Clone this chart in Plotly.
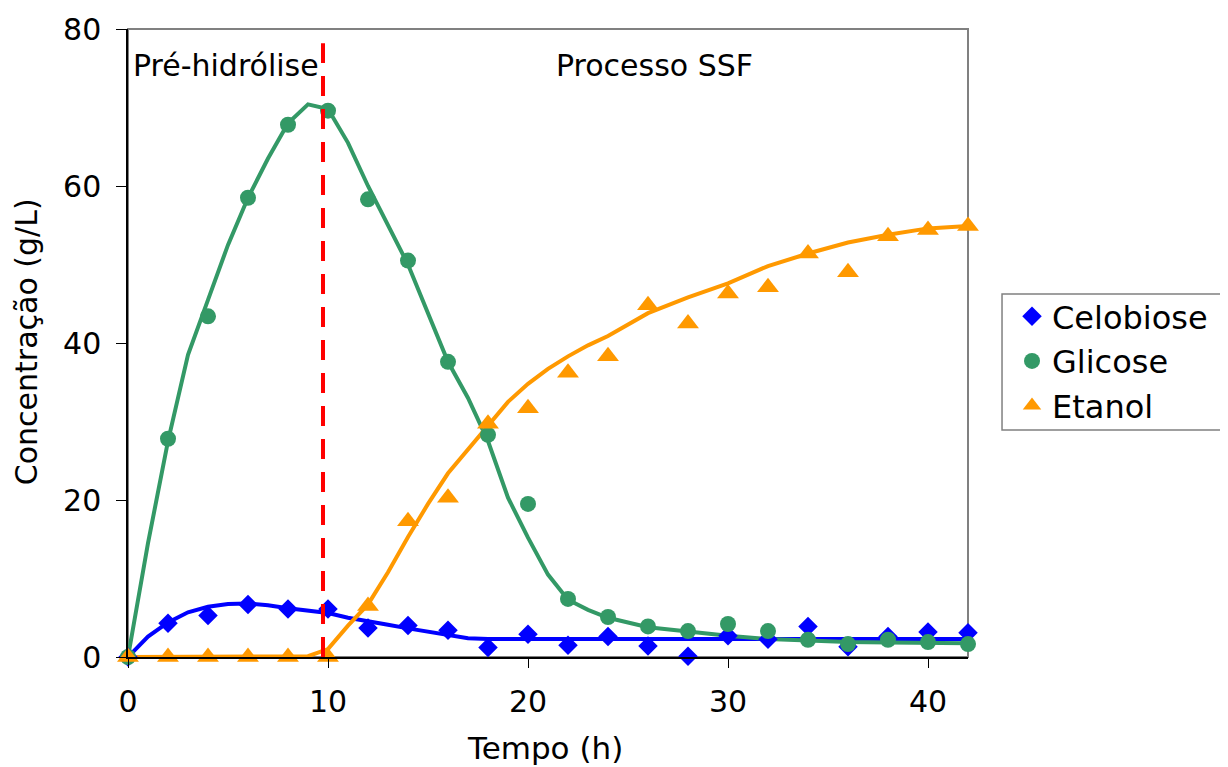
import plotly.graph_objects as go

# ---- measured data (points) ----
t_data = [0, 2, 4, 6, 8, 10, 12, 14, 16, 18, 20, 22, 24, 26, 28, 30, 32, 34, 36, 38, 40, 42]
celobiose = [0, 4.3, 5.3, 6.7, 6.1, 6.1, 3.7, 4.0, 3.4, 1.2, 2.9, 1.5, 2.6, 1.4, 0.1, 2.7, 2.25, 3.9, 1.3, 2.6, 3.2, 3.1]
glicose = [0, 27.8, 43.4, 58.5, 67.8, 69.6, 58.3, 50.5, 37.6, 28.3, 19.5, 7.4, 5.1, 3.9, 3.3, 4.2, 3.3, 2.2, 1.65, 2.2, 1.9, 1.65]
etanol = [0, 0, 0, 0, 0, 0, 6.5, 17.3, 20.3, 29.7, 31.7, 36.2, 38.3, 44.8, 42.5, 46.3, 47.1, 51.4, 49.0, 53.6, 54.4, 54.9]

# ---- model curves ----
t_cel_model = [0, 1, 2, 3, 4, 5, 6, 7, 8, 9, 10, 11, 12, 13, 14, 15, 16, 17, 18, 20, 25, 30, 35, 42]
cel_model = [0, 2.6, 4.4, 5.7, 6.4, 6.75, 6.8, 6.6, 6.2, 5.9, 5.6, 5.0, 4.5, 4.1, 3.65, 3.2, 2.8, 2.4, 2.3, 2.3, 2.3, 2.3, 2.3, 2.3]

t_gli_model = [0, 1, 2, 3, 4, 5, 6, 7, 8, 9, 10, 11, 12, 13, 14, 15, 16, 17, 18, 19, 20, 21, 22, 23, 24, 26, 28, 30, 32, 34, 36, 38, 40, 42]
gli_model = [0, 14.5, 27.5, 38.5, 45.5, 52.5, 58.5, 63.5, 68.0, 70.4, 69.8, 65.5, 60.0, 55.0, 50.0, 43.8, 37.6, 33.0, 27.5, 20.3, 15.2, 10.5, 7.3, 6.0, 5.0, 3.8, 3.2, 2.7, 2.3, 2.1, 1.9, 1.85, 1.8, 1.75]

t_eta_model = [0, 2, 4, 6, 8, 9, 10, 11, 12, 13, 14, 15, 16, 17, 18, 19, 20, 21, 22, 23, 24, 25, 26, 28, 30, 32, 34, 36, 38, 40, 42]
eta_model = [0, 0, 0, 0, 0, 0.1, 1.0, 4.0, 6.7, 10.8, 15.3, 19.5, 23.4, 26.5, 29.6, 32.5, 34.8, 36.7, 38.3, 39.7, 40.9, 42.4, 43.8, 45.8, 47.6, 49.8, 51.4, 52.8, 53.8, 54.6, 54.9]

x_ticks = [0, 10, 20, 30, 40]
y_ticks = [0, 20, 40, 60, 80]
pre_hydrolysis_end = 9.75
divider_top = 78.2

BLUE = "#0000FF"
GREEN = "#339966"
ORANGE = "#FF9900"
FONT = "DejaVu Sans"

fig = go.Figure()

# model lines
fig.add_trace(go.Scatter(x=t_cel_model, y=cel_model, mode="lines", line=dict(color=BLUE, width=4),
                         showlegend=False, hoverinfo="skip", cliponaxis=False))
fig.add_trace(go.Scatter(x=t_gli_model, y=gli_model, mode="lines", line=dict(color=GREEN, width=4),
                         showlegend=False, hoverinfo="skip", cliponaxis=False))
fig.add_trace(go.Scatter(x=t_eta_model, y=eta_model, mode="lines", line=dict(color=ORANGE, width=4),
                         showlegend=False, hoverinfo="skip", cliponaxis=False))

# data points
fig.add_trace(go.Scatter(x=t_data, y=celobiose, mode="markers", name="Celobiose",
                         marker=dict(symbol="diamond", size=15, color=BLUE), cliponaxis=False))
fig.add_trace(go.Scatter(x=t_data, y=glicose, mode="markers", name="Glicose",
                         marker=dict(symbol="circle", size=16, color=GREEN), cliponaxis=False))
fig.add_trace(go.Scatter(x=t_data, y=etanol, mode="markers", name="Etanol",
                         marker=dict(symbol="triangle-up", size=19, color=ORANGE), cliponaxis=False))

# frame (top/right gray)
fig.add_shape(type="rect", xref="paper", yref="paper", x0=0, x1=1, y0=0, y1=1,
              line=dict(color="#808080", width=2), layer="below")

# legend box (runs off the right edge, as in the reference)
fig.add_shape(type="rect", xref="paper", yref="paper", x0=1.0405, x1=1.33, y0=0.3615, y1=0.578,
              line=dict(color="#808080", width=1.5), fillcolor="white", layer="below")

# divider
fig.add_shape(type="line", xref="x", yref="y", x0=pre_hydrolysis_end, x1=pre_hydrolysis_end,
              y0=0, y1=divider_top, line=dict(color="#FF0000", width=4, dash="20px,13px"))

fig.add_annotation(x=0.15, y=75.3, xref="x", yref="y", text="Pré-hidrólise", showarrow=False,
                   xanchor="left", yanchor="middle", font=dict(family=FONT, size=30, color="black"))
fig.add_annotation(x=26.3, y=75.3, xref="x", yref="y", text="Processo SSF", showarrow=False,
                   xanchor="center", yanchor="middle", font=dict(family=FONT, size=30, color="black"))

# axis titles
fig.add_annotation(x=0.496, y=-0.145, xref="paper", yref="paper", text="Tempo (h)", showarrow=False,
                   xanchor="center", yanchor="middle", font=dict(family=FONT, size=31, color="black"))
fig.add_annotation(x=-0.120, y=0.5016, xref="paper", yref="paper", text="Concentração (g/L)",
                   showarrow=False, textangle=-90, xanchor="center", yanchor="middle",
                   font=dict(family=FONT, size=30, color="black"))

fig.update_layout(
    width=1220, height=759,
    margin=dict(l=120, r=260, t=21, b=110, autoexpand=False),
    paper_bgcolor="white", plot_bgcolor="white",
    font=dict(family=FONT, size=30, color="black"),
    showlegend=True,
    legend=dict(x=1.0524, y=0.586, xanchor="left", yanchor="top",
                borderwidth=0, bgcolor="rgba(0,0,0,0)",
                font=dict(family=FONT, size=32, color="black"),
                itemwidth=30, tracegroupgap=0),
    xaxis=dict(range=[0, 42], tickvals=x_ticks, ticks="outside", ticklen=9, tickcolor="black",
               showline=True, linecolor="black", linewidth=1.5, showgrid=False, zeroline=False,
               ticklabelstandoff=8, automargin=False,
               tickfont=dict(family=FONT, size=30)),
    yaxis=dict(range=[0, 80], tickvals=y_ticks, ticks="outside", ticklen=10, tickcolor="black",
               showline=True, linecolor="black", linewidth=1.5, showgrid=False, zeroline=False,
               ticklabelstandoff=9, automargin=False,
               tickfont=dict(family=FONT, size=30)),
)

fig.write_html("out.html")
